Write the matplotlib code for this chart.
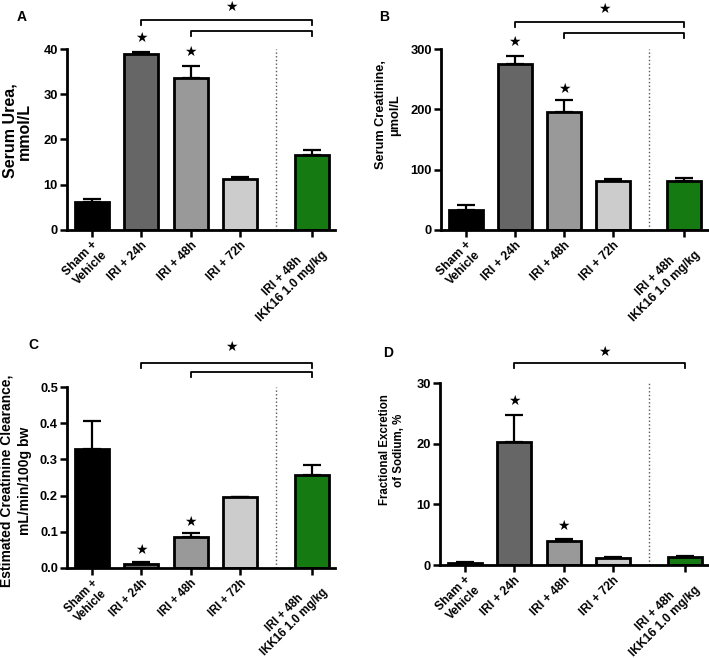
import numpy as np
import matplotlib
matplotlib.use("Agg")
import matplotlib.pyplot as plt

plt.rcParams['font.family'] = ['Liberation Sans', 'DejaVu Sans']
plt.rcParams['font.weight'] = 'bold'

groups = ["Sham +\nVehicle", "IRI + 24h", "IRI + 48h", "IRI + 72h", "IRI + 48h\nIKK16 1.0 mg/kg"]
colors = ["#000000", "#666666", "#999999", "#cccccc", "#157a12"]
positions = [0, 1, 2, 3, 4.45]
divider_x = 3.72

# panel data: means and upper error
urea_mean = [6.2, 39.0, 33.7, 11.2, 16.5]
urea_err = [0.6, 0.4, 2.6, 0.6, 1.2]
creat_mean = [33, 275, 196, 81, 81]
creat_err = [9, 14, 19, 4, 5]
clear_mean = [0.33, 0.012, 0.086, 0.195, 0.256]
clear_err = [0.077, 0.004, 0.010, 0.002, 0.028]
fena_mean = [0.4, 20.2, 3.9, 1.2, 1.4]
fena_err = [0.1, 4.5, 0.4, 0.15, 0.1]

W, H = 709, 658

panels = [
    dict(letter="A", rect=[0.0945, 0.6505, 0.378, 0.275], mean=urea_mean, err=urea_err,
         ylim=40, yticks=[0, 10, 20, 30, 40], ylabel="Serum Urea,\nmmol/L",
         lab=(17.5, 131, 11.5, 0.95), xsize=8.7,
         stars={1: 42.4, 2: 39.3}, brackets=[(1, 46.4), (2, 44.0)], top_star=49.2, fmt="{:.0f}"),
    dict(letter="B", rect=[0.622, 0.6505, 0.376, 0.275], mean=creat_mean, err=creat_err,
         ylim=300, yticks=[0, 100, 200, 300], ylabel="Serum Creatinine,\n\u03bcmol/L",
         lab=(388, 115, 9.2, 1.25), xsize=8.7,
         stars={1: 312, 2: 234}, brackets=[(1, 345), (2, 327)], top_star=366, fmt="{:.0f}"),
    dict(letter="C", rect=[0.0945, 0.1368, 0.378, 0.275], mean=clear_mean, err=clear_err,
         ylim=0.5, yticks=[0.0, 0.1, 0.2, 0.3, 0.4, 0.5],
         ylabel="Estimated Creatinine Clearance,\nmL/min/100g bw",
         lab=(16, 481, 10, 1.4), xsize=8.3,
         stars={1: 0.05, 2: 0.127}, brackets=[(1, 0.566), (2, 0.541)], top_star=0.61, fmt="{:.1f}"),
    dict(letter="D", rect=[0.6206, 0.1413, 0.378, 0.2766], mean=fena_mean, err=fena_err,
         ylim=30, yticks=[0, 10, 20, 30], ylabel="Fractional Excretion\nof Sodium, %",
         lab=(392, 450, 8.3, 1.25), xsize=8.7,
         stars={1: 27.0, 2: 6.4}, brackets=[(1, 33.3)], top_star=35.1, fmt="{:.0f}"),
]

letter_pos = {"A": (22, 17), "B": (384, 17), "C": (33, 345), "D": (388, 353)}

fig = plt.figure(figsize=(W / 100, H / 100), dpi=100)

for p in panels:
    ax = fig.add_axes(p["rect"])
    ax.bar(positions, p["mean"], width=0.69, color=colors, edgecolor="black", linewidth=2, zorder=2)
    ax.errorbar(positions, p["mean"], yerr=[np.zeros(5), p["err"]], fmt="none", ecolor="black",
                elinewidth=1.6, capsize=6.5, capthick=1.6, zorder=1)
    ax.set_xlim(-0.5, 4.92)
    ax.set_ylim(0, p["ylim"])
    ax.set_yticks(p["yticks"])
    ax.set_yticklabels([p["fmt"].format(v) for v in p["yticks"]], fontsize=9.3, fontweight="bold")
    ax.set_xticks(positions)
    ax.set_xticklabels(groups, rotation=45, ha="right", rotation_mode="anchor", fontsize=p["xsize"],
                       fontweight="bold", multialignment="center")
    for s in ["top", "right"]:
        ax.spines[s].set_visible(False)
    for s in ["left", "bottom"]:
        ax.spines[s].set_linewidth(2)
    ax.tick_params(axis="both", width=1.8, length=5, pad=1.5)
    ax.axvline(divider_x, color="#555555", linestyle=":", linewidth=1, zorder=0)

    lx, ly, lsize, lspace = p["lab"]
    fig.text(lx / W, 1 - ly / H, p["ylabel"], rotation=90, ha="center", va="center",
             multialignment="center", fontsize=lsize, fontweight="bold", linespacing=lspace)

    ymax = p["ylim"]
    for idx, ys in p["stars"].items():
        ax.text(positions[idx], ys, "\u2605", ha="center", va="center", fontsize=10,
                family="DejaVu Sans", clip_on=False)
    for start, yb in p["brackets"]:
        drop = 0.028 * ymax
        ax.plot([positions[start], positions[start], positions[4], positions[4]],
                [yb - drop, yb, yb, yb - drop], color="black", linewidth=1.3, clip_on=False)
    ax.text(2.82, p["top_star"], "\u2605", ha="center", va="center", fontsize=10,
            family="DejaVu Sans", clip_on=False)

    px, py = letter_pos[p["letter"]]
    fig.text(px / W, 1 - py / H, p["letter"], fontsize=10, fontweight="bold", ha="center",
             va="center")

fig.savefig("out.png", dpi=100)
